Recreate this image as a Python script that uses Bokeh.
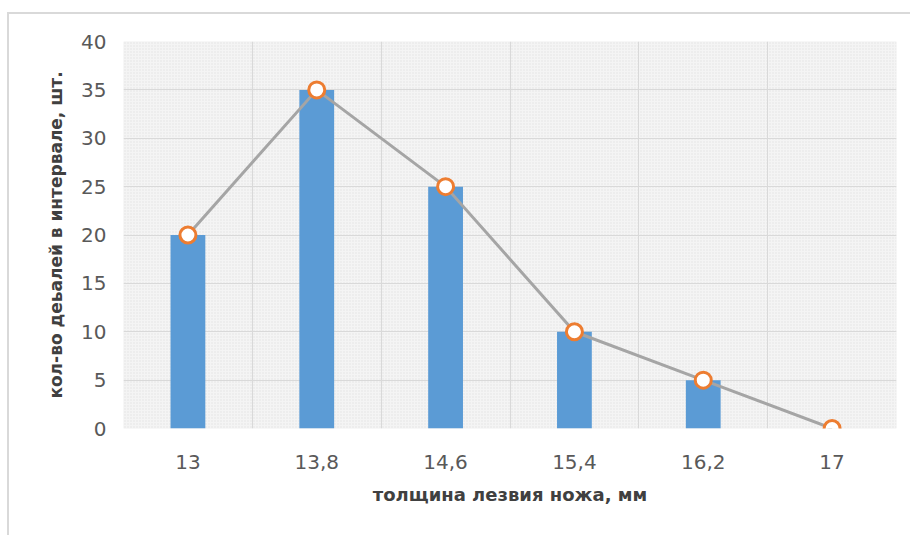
from bokeh.plotting import figure
from bokeh.models import FixedTicker, BoxAnnotation, Range1d
from bokeh.embed import file_html
from bokeh.resources import INLINE

categories = ["13", "13,8", "14,6", "15,4", "16,2", "17"]
counts = [20, 35, 25, 10, 5, 0]
y_ticks = [0, 5, 10, 15, 20, 25, 30, 35, 40]

xs = list(range(len(categories)))

p = figure(width=903, height=523, output_backend="svg", toolbar_location=None,
           x_range=Range1d(-0.5, len(categories) - 0.5), y_range=Range1d(0, 40),
           min_border_left=114, min_border_top=27, min_border_right=16, min_border_bottom=109)
p.margin = (12, 0, 0, 7)
p.styles = {"border-left": "2px solid #d9d9d9", "border-top": "2px solid #d9d9d9"}

p.background_fill_color = "#f3f3f3"
p.border_fill_color = "white"
p.outline_line_color = None

bg = BoxAnnotation(fill_color="#f4f4f4", fill_alpha=1.0, line_color=None,
                   hatch_pattern="dot", hatch_color="#dcdcdc", hatch_scale=3,
                   hatch_weight=1, hatch_alpha=0.7, level="image")
p.add_layout(bg)

p.vbar(x=xs, top=counts, width=0.27, fill_color="#5B9BD5", line_color=None)
p.line(x=xs, y=counts, line_color="#A5A5A5", line_width=3)
p.scatter(x=xs, y=counts, size=16, marker="circle", fill_color="white",
          line_color="#ED7D31", line_width=3)

font = "DejaVu Sans"

p.xaxis.ticker = FixedTicker(ticks=xs)
p.xaxis.major_label_overrides = {i: c for i, c in enumerate(categories)}
p.xgrid.ticker = FixedTicker(ticks=[i - 0.5 for i in range(len(categories) + 1)])
p.xgrid.grid_line_color = "#d9d9d9"
p.xgrid.grid_line_width = 1

p.yaxis.ticker = FixedTicker(ticks=y_ticks)
p.ygrid.grid_line_color = "#d9d9d9"
p.ygrid.grid_line_width = 1

for ax in (p.xaxis, p.yaxis):
    ax.axis_line_color = None
    ax.major_tick_line_color = None
    ax.minor_tick_line_color = None
    ax.major_label_text_font = font
    ax.major_label_text_font_size = "20px"
    ax.major_label_text_color = "#595959"
    ax.axis_label_text_font = font
    ax.axis_label_text_color = "#404040"
    ax.axis_label_text_font_style = "bold"

p.xaxis.major_label_standoff = 20
p.yaxis.major_label_standoff = 11

p.xaxis.axis_label = "толщина лезвия ножа, мм"
p.xaxis.axis_label_text_font_size = "18px"
p.xaxis.axis_label_standoff = 12
p.yaxis.axis_label = "кол-во деьалей в интервале, шт."
p.yaxis.axis_label_text_font_size = "17px"
p.yaxis.axis_label_standoff = 12

open("out.html", "w").write(file_html(p, INLINE))
